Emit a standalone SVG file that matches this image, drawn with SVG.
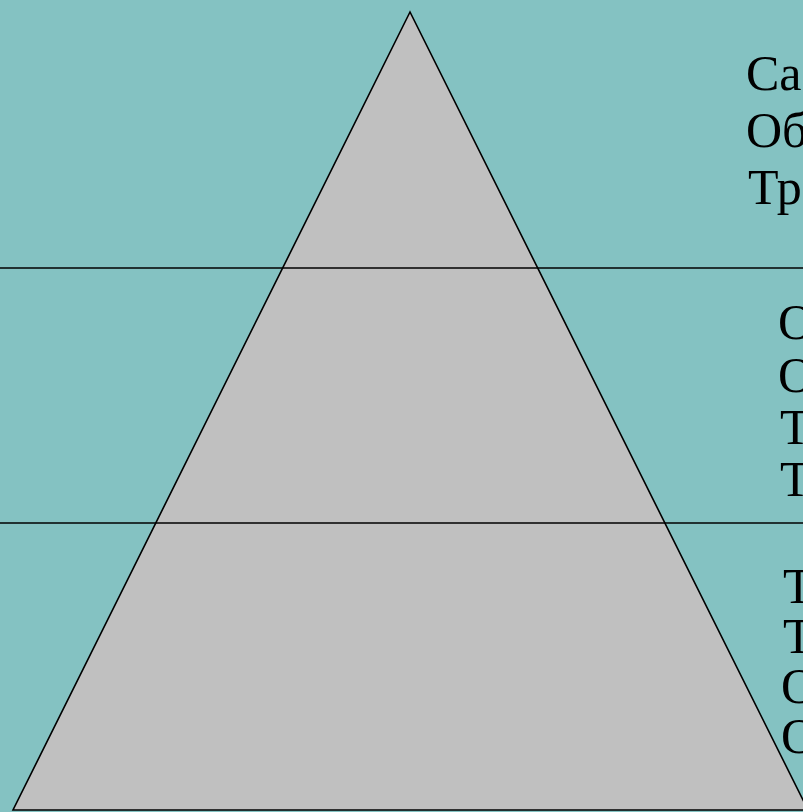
<svg xmlns="http://www.w3.org/2000/svg" width="803" height="812" viewBox="0 0 803 812">
<style>
.t{font-family:"Liberation Serif","Times New Roman",serif;font-size:50px;fill:#000}
.ln{stroke:#000;stroke-width:1.6;fill:none}
</style>
<rect x="0" y="0" width="803" height="812" fill="#84C2C2"/>
<g id="pyramid">
<polygon points="410,12 13,810 808,810" fill="#C0C0C0" stroke="#000" stroke-width="1.6" stroke-linejoin="miter"/>
</g>
<g id="dividers">
<line class="ln" x1="0" y1="268" x2="803" y2="268"/>
<line class="ln" x1="0" y1="523" x2="803" y2="523"/>
</g>
<g id="level1">
<text class="t" x="746" y="90">Са</text>
<text class="t" x="746" y="147">Об</text>
<text class="t" x="748" y="204">Тр</text>
</g>
<g id="level2">
<text class="t" x="778" y="339">О</text>
<text class="t" x="778" y="392">О</text>
<text class="t" x="780" y="444">Т</text>
<text class="t" x="780" y="496">Т</text>
</g>
<g id="level3">
<text class="t" x="783" y="603">Т</text>
<text class="t" x="783" y="653">Т</text>
<text class="t" x="781" y="703">О</text>
<text class="t" x="781" y="753">О</text>
</g>
</svg>
